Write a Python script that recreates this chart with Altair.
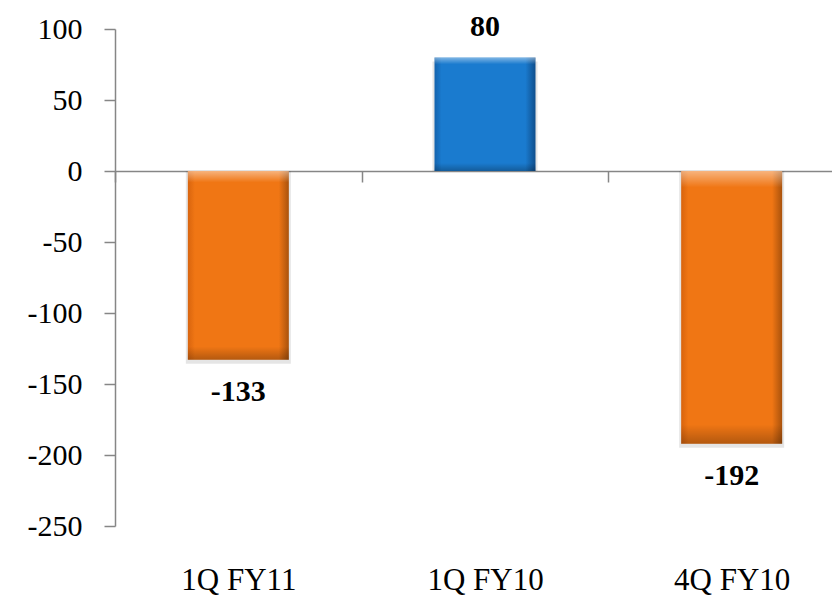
import altair as alt
import pandas as pd

# Quarterly values (same units as the y axis)
quarters = ["1Q FY11", "1Q FY10", "4Q FY10"]
values = [-133, 80, -192]
y_ticks = [100, 50, 0, -50, -100, -150, -200, -250]
y_min, y_max = -250, 100

df = pd.DataFrame({"quarter": quarters, "value": values})
df["label"] = df["value"].astype(str)

FONT = "Liberation Serif"
AXIS_GREY = "#868686"
PLOT_W, PLOT_H = 717, 497
BAND_SPAN = 740  # three categories; the last one runs past the right edge

# zero line sits inside the plot: shift the x axis up to y = 0
zero_offset = -PLOT_H * (0 - y_min) / (y_max - y_min)

x_enc = alt.X(
    "quarter:N",
    sort=quarters,
    scale=alt.Scale(range=[0, BAND_SPAN], paddingInner=0, paddingOuter=0),
    axis=alt.Axis(
        title=None,
        orient="bottom",
        offset=zero_offset,
        domainColor=AXIS_GREY,
        domainWidth=1.5,
        tickBand="extent",
        tickColor=AXIS_GREY,
        tickWidth=1.5,
        tickSize=11,
        labelPadding=383,
        labelAngle=0,
        labelFont=FONT,
        labelFontSize=31,
        labelColor="black",
    ),
)

y_enc = alt.Y(
    "value:Q",
    scale=alt.Scale(domain=[y_min, y_max], nice=False, zero=False),
    axis=alt.Axis(
        title=None,
        values=y_ticks,
        labelExpr="toString(datum.value)",
        grid=False,
        domainColor=AXIS_GREY,
        domainWidth=1.5,
        tickColor=AXIS_GREY,
        tickWidth=1.5,
        tickSize=11,
        labelPadding=22,
        labelFont=FONT,
        labelFontSize=30,
        labelColor="black",
    ),
)


def bevel(edge_dark, mid, far_dark):
    return alt.LinearGradient(
        gradient="linear",
        x1=0, x2=1, y1=0, y2=0,
        stops=[
            alt.GradientStop(color=edge_dark, offset=0),
            alt.GradientStop(color=mid, offset=0.07),
            alt.GradientStop(color=mid, offset=0.9),
            alt.GradientStop(color=far_dark, offset=1),
        ],
    )


orange_fill = bevel("#D8640E", "#F07614", "#A9520C")
blue_fill = bevel("#1463AD", "#1A7BCF", "#0F4E8C")

# soft highlight at the top edge and shade at the bottom edge of each bar
sheen = alt.LinearGradient(
    gradient="linear",
    x1=0, x2=0, y1=0, y2=1,
    stops=[
        alt.GradientStop(color="rgba(255,255,255,0.45)", offset=0),
        alt.GradientStop(color="rgba(255,255,255,0.0)", offset=0.06),
        alt.GradientStop(color="rgba(0,0,0,0.0)", offset=0.93),
        alt.GradientStop(color="rgba(0,0,0,0.25)", offset=1),
    ],
)

base = alt.Chart(df).encode(x=x_enc)

# faint drop shadow under each bar
shadow = base.mark_bar(
    size=105, color="rgba(0,0,0,0.10)", yOffset=4
).encode(y=alt.Y("value:Q"), y2=alt.datum(0))

neg_bars = base.transform_filter("datum.value < 0").mark_bar(
    size=101, color=orange_fill
).encode(y=y_enc, y2=alt.datum(0))

pos_bars = base.transform_filter("datum.value >= 0").mark_bar(
    size=101, color=blue_fill
).encode(y=y_enc, y2=alt.datum(0))

sheen_bars = base.mark_bar(size=101, color=sheen).encode(
    y=alt.Y("value:Q"), y2=alt.datum(0)
)

pos_labels = base.transform_filter("datum.value >= 0").mark_text(
    font=FONT, fontSize=30, fontWeight="bold", color="black", dy=-30
).encode(y=alt.Y("value:Q"), text="label:N")

neg_labels = base.transform_filter("datum.value < 0").mark_text(
    font=FONT, fontSize=30, fontWeight="bold", color="black", dy=32
).encode(y=alt.Y("value:Q"), text="label:N")

chart = (
    alt.layer(shadow, neg_bars, pos_bars, sheen_bars, pos_labels, neg_labels)
    .properties(
        width=PLOT_W,
        height=PLOT_H,
        autosize=alt.AutoSizeParams(type="none"),
        padding={"left": 115, "top": 29, "right": 0, "bottom": 71},
        background="white",
    )
    .configure_view(stroke=None)
)

chart.save("out.html", embed_options={"renderer": "svg", "actions": False})
